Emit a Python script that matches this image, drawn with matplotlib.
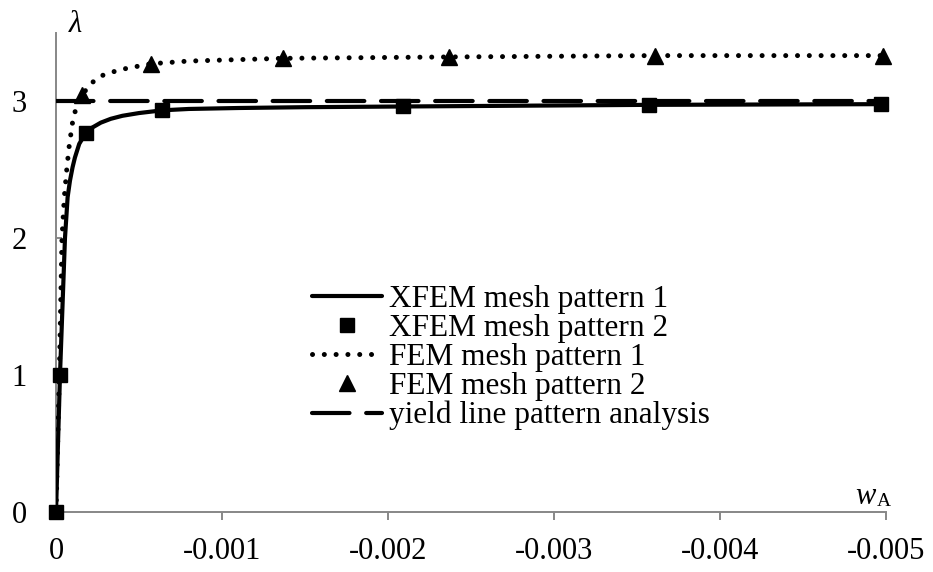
"""Load factor vs. deflection at point A: XFEM / FEM mesh patterns vs. yield line analysis."""

import matplotlib

matplotlib.use("Agg")
import matplotlib.pyplot as plt

plt.rcParams["font.family"] = ["Liberation Serif", "DejaVu Serif"]

# XFEM mesh pattern 1 (smooth solid curve)
xfem1_w = [0.0, -0.000024, -0.000054, -0.00007, -0.000084, -0.0001, -0.000114, -0.00014,
           -0.00018, -0.00022, -0.00027, -0.00033, -0.0004, -0.0005, -0.00064, -0.0008,
           -0.0011, -0.0015, -0.00209, -0.00357, -0.00497]
xfem1_lam = [0.0, 1.0, 2.0, 2.3, 2.42, 2.52, 2.59, 2.69,
             2.77, 2.81, 2.845, 2.873, 2.895, 2.915, 2.935, 2.945,
             2.952, 2.958, 2.963, 2.975, 2.98]

# XFEM mesh pattern 2 (squares)
xfem2_w = [0.0, -0.000024, -0.00018, -0.00064, -0.00209, -0.00357, -0.00497]
xfem2_lam = [0.0, 1.0, 2.77, 2.94, 2.963, 2.975, 2.98]

# FEM mesh pattern 1 (dotted curve)
fem1_w = [0.0, -0.00001, -0.00002, -0.000036, -0.00005, -0.000066, -0.00008, -0.0001,
          -0.00012, -0.000157, -0.00022, -0.00028, -0.00034, -0.00042, -0.00057, -0.0008,
          -0.00137, -0.00237, -0.00361, -0.00498]
fem1_lam = [0.0, 0.5, 1.0, 2.0, 2.3, 2.52, 2.68, 2.85,
            2.95, 3.05, 3.14, 3.19, 3.215, 3.24, 3.275, 3.295,
            3.315, 3.325, 3.335, 3.335]

# FEM mesh pattern 2 (triangles)
fem2_w = [-0.000157, -0.00057, -0.00137, -0.00237, -0.00361, -0.00498]
fem2_lam = [3.05, 3.275, 3.315, 3.325, 3.335, 3.335]

# yield line pattern analysis
yield_w = [0.0, -0.005]
yield_lam = [3.0, 3.0]

x_ticks = [0.0, -0.001, -0.002, -0.003, -0.004, -0.005]
x_tick_labels = ["0", "-0.001", "-0.002", "-0.003", "-0.004", "-0.005"]
y_ticks = [0, 1, 2, 3]

fig = plt.figure(figsize=(9.33, 5.72), dpi=100)
ax = fig.add_axes([56 / 933, 60 / 572, 830 / 933, 479 / 572])

ax.plot(xfem1_w, xfem1_lam, color="black", linewidth=3.0, solid_capstyle="round",
        solid_joinstyle="round", label="XFEM mesh pattern 1", zorder=3)
ax.plot(xfem2_w, xfem2_lam, linestyle="none", marker="s", markersize=10, color="black",
        label="XFEM mesh pattern 2", clip_on=False, zorder=5)
ax.plot(fem1_w, fem1_lam, color="black", linewidth=3.6, linestyle=(0, (0.01, 2.35)),
        dash_capstyle="round", label="FEM mesh pattern 1", zorder=3)
ax.plot(fem2_w, fem2_lam, linestyle="none", marker="^", markersize=11, color="black",
        label="FEM mesh pattern 2", clip_on=False, zorder=5)
ax.plot(yield_w, yield_lam, color="black", linewidth=3.0, linestyle=(0, (9, 4)),
        dash_capstyle="round", label="yield line pattern analysis", zorder=4)

ax.set_xlim(0, -0.005)
ax.set_ylim(0, 3.5)
ax.set_xticks(x_ticks)
ax.set_xticklabels(x_tick_labels)
ax.set_yticks(y_ticks)
ax.set_yticklabels([str(v) for v in y_ticks])

for side in ["top", "right"]:
    ax.spines[side].set_visible(False)
for side in ["left", "bottom"]:
    ax.spines[side].set_color("#878787")
    ax.spines[side].set_linewidth(1.4)

ax.tick_params(axis="x", direction="out", length=6, width=1.4, color="#878787",
               labelsize=22, pad=12)
ax.tick_params(axis="y", direction="in", length=4.5, width=1.4, color="#878787",
               labelsize=22, pad=21)

fig.text(75 / 933, 1 - 25 / 572, "λ", fontsize=22, fontstyle="italic", ha="center", va="center")
fig.text(855 / 933, 1 - 504 / 572, "w", fontsize=22, fontstyle="italic", ha="left", va="baseline")
fig.text(877 / 933, 1 - 506 / 572, "A", fontsize=14, ha="left", va="baseline")

fig.legend(loc="upper left", bbox_to_anchor=(312 / 933, 1 - 285 / 572),
           bbox_transform=fig.transFigure, frameon=False, fontsize=22.5, numpoints=1,
           handlelength=2.25, handletextpad=0.2, labelspacing=0.0, borderpad=0,
           borderaxespad=0)

fig.savefig("out.png", dpi=100)
